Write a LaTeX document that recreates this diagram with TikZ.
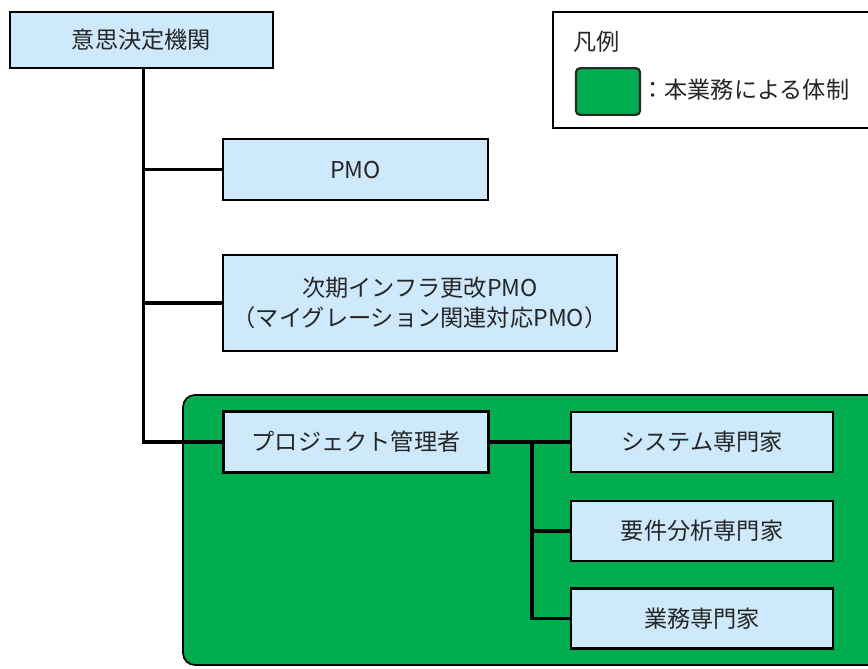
\documentclass[tikz,border=0pt]{standalone}
\usepackage{fontspec}
\setmainfont{Noto Sans CJK JP}
\definecolor{boxblue}{HTML}{CDE9FB}
\definecolor{teamgreen}{HTML}{00AC4E}
\definecolor{textgray}{HTML}{262626}
\begin{document}
\begin{tikzpicture}[x=0.75pt,y=-0.75pt,
			main node/.style = {rectangle,draw=black,fill=boxblue,line width=1.9pt,
				inner sep=0pt,text=textgray,align=center,
				font=\fontsize{17.4}{22.5}\selectfont},
			link/.style = {line width=2.6pt,black}]
			
			\useasboundingbox (0,0) rectangle (868,668);
			\clip (0,0) rectangle (868,668);
			
			% area of this work
			\draw[fill=teamgreen,line width=1.3pt,rounded corners=9pt] (183,395) rectangle (900,665);
			
			% legend
			\draw[line width=1.7pt,fill=white] (553,12) rectangle (900,128);
			\node[anchor=west,inner sep=0pt,text=textgray,font=\fontsize{17.4}{22}\selectfont] (8) at (573,42) {凡例};
			\node[draw=black!85,fill=teamgreen,line width=1.6pt,rounded corners=3pt,
				minimum width=48pt,minimum height=35pt,inner sep=0pt] (9) at (608,91.5) {};
			\node[anchor=west,inner sep=0pt,text=textgray,font=\fontsize{17.4}{22}\selectfont] (10) at (641,90) {：本業務による体制};
			
			\node[main node,minimum width=197.25pt,minimum height=42pt] (1) at (141.5,40) {意思決定機関};
			\node[main node,minimum width=198.75pt,minimum height=45.75pt] (2) at (355.5,169.5) {PMO};
			\node[main node,minimum width=295.5pt,minimum height=72pt] (3) at (420,303) {次期インフラ更改PMO\\（マイグレーション関連対応PMO）};
			\node[main node,minimum width=198.75pt,minimum height=45.75pt] (4) at (356,442) {プロジェクト管理者};
			\node[main node,minimum width=196.5pt,minimum height=45pt] (5) at (702,442) {システム専門家};
			\node[main node,minimum width=196.5pt,minimum height=45pt] (6) at (702,531) {要件分析専門家};
			\node[main node,minimum width=196.5pt,minimum height=45pt] (7) at (702,618.5) {業務専門家};
			\coordinate (b) at (532,442);
			
			\draw[link] ([xshift=1.5pt]1.south) |- (2.west);
			\draw[link] ([xshift=1.5pt]1.south) |- (3.west);
			\draw[link] ([xshift=1.5pt]1.south) |- (4.west);
			\draw[link] (4.east) -- (5.west);
			\draw[link] (b) |- (6.west);
			\draw[link] (b) |- (7.west);
			
			\end{tikzpicture}
\end{document}
